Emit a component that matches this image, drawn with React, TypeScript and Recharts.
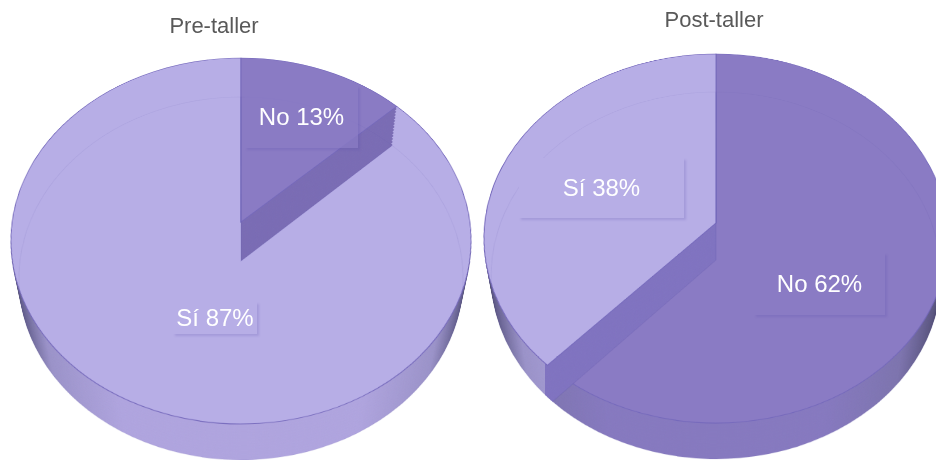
import React from 'react';
import { PieChart, Pie, Cell } from 'recharts';

const sliceNames = ['No', 'Sí'];
const preValues = [13, 87];
const postValues = [62, 38];
const chartTitles = ['Pre-taller', 'Post-taller'];

const R = 300;
const PAD = 3;
const LAYERS = 26;

const colors = {
    no: '#8a7bc4',
    si: '#b7aee6',
    wallPre: '#7a6cb4',
    wallPost: '#8073c0',
    edge: '#7468bb',
    title: '#595959',
};

interface Face { cx: number; cy: number; S: number; T: number; q: number; }

const lerp = (a: number, b: number, t: number) => a + (b - a) * t;
const mixFace = (a: Face, b: Face, t: number): Face => ({
    cx: lerp(a.cx, b.cx, t),
    cy: lerp(a.cy, b.cy, t),
    S: lerp(a.S, b.S, t),
    T: lerp(a.T, b.T, t),
    q: lerp(a.q, b.q, t),
});

// Each disc is a normal circular pie, tilted with a projective css transform
const Disc = ({ face, values, fills, stroke, strokeWidth = 1.1 }: {
    face: Face; values: number[]; fills: string[]; stroke: string[]; strokeWidth?: number;
}) => {
    const size = 2 * (R + PAD);
    const tableData = sliceNames.map((name, i) => ({ name, value: values[i] }));
    return (
        <div
            style={{
                position: 'absolute',
                left: face.cx - size / 2,
                top: face.cy - size / 2,
                width: size,
                height: size,
                transformOrigin: '50% 50%',
                transform: `matrix3d(${face.S / R},0,0,0, 0,${face.T / R},0,${-face.q / R}, 0,0,1,0, 0,0,0,1)`,
            }}
        >
            <PieChart width={size} height={size} margin={{ top: 0, right: 0, bottom: 0, left: 0 }}>
                <defs>
                    <linearGradient id="sideNo" gradientUnits="userSpaceOnUse" x1={PAD} y1="0" x2={size - PAD} y2="0">
                        <stop offset="0%" stopColor="#3d3a5c" />
                        <stop offset="4%" stopColor="#5a5580" />
                        <stop offset="12%" stopColor="#7d74ae" />
                        <stop offset="28%" stopColor="#8679bf" />
                        <stop offset="72%" stopColor="#8679bf" />
                        <stop offset="88%" stopColor="#7d74ae" />
                        <stop offset="96%" stopColor="#5a5580" />
                        <stop offset="100%" stopColor="#3d3a5c" />
                    </linearGradient>
                    <linearGradient id="sideSi" gradientUnits="userSpaceOnUse" x1={PAD} y1="0" x2={size - PAD} y2="0">
                        <stop offset="0%" stopColor="#3d3a5c" />
                        <stop offset="3%" stopColor="#625d8c" />
                        <stop offset="10%" stopColor="#9a92c8" />
                        <stop offset="26%" stopColor="#afa4de" />
                        <stop offset="74%" stopColor="#afa4de" />
                        <stop offset="90%" stopColor="#9a92c8" />
                        <stop offset="97%" stopColor="#625d8c" />
                        <stop offset="100%" stopColor="#3d3a5c" />
                    </linearGradient>
                </defs>
                <Pie
                    data={tableData}
                    dataKey="value"
                    nameKey="name"
                    cx={R + PAD}
                    cy={R + PAD}
                    outerRadius={R}
                    innerRadius={0}
                    startAngle={90}
                    endAngle={-270}
                    label={false}
                    labelLine={false}
                    isAnimationActive={false}
                >
                    {tableData.map((entry, i) => (
                        <Cell key={entry.name} fill={fills[i]} stroke={stroke[i]} strokeWidth={strokeWidth} />
                    ))}
                </Pie>
            </PieChart>
        </div>
    );
};

const PieBody = ({ top, bottom, values, raised, wallFill, wallClipX }: {
    top: Face; bottom: Face; values: number[]; raised: number; wallFill: string; wallClipX?: number;
}) => {
    const steps = Array.from({ length: LAYERS }, (_, i) => 1 - i / LAYERS);
    const other = raised === 0 ? 1 : 0;
    const raisedFill = raised === 0 ? colors.no : colors.si;
    const pick = (on: string, off: string) => (raised === 0 ? [on, off] : [off, on]);
    const none = ['none', 'none'];
    return (
        <>
            {steps.map((t) => (
                <Disc key={`side${t}`} face={mixFace(top, bottom, t)} values={values} fills={['url(#sideNo)', 'url(#sideSi)']} stroke={none} />
            ))}
            {/* lower rim line of the top face and the full top */}
            <Disc
                face={top}
                values={values}
                fills={other === 0 ? [colors.no, colors.no] : [colors.si, colors.si]}
                stroke={[colors.edge, colors.edge].map((c, i) => (i === other ? c : 'none'))}
            />
            <div style={{ position: 'absolute', inset: 0, clipPath: wallClipX ? `inset(0 0 0 ${wallClipX}px)` : undefined }}>
                {steps.map((t) => (
                    <Disc key={`wall${t}`} face={mixFace(top, bottom, t)} values={values} fills={pick(wallFill, 'none')} stroke={none} />
                ))}
            </div>
            <Disc face={top} values={values} fills={pick(raisedFill, 'none')} stroke={pick(colors.edge, 'none')} />
            {/* far rim of the base shows faintly through the top */}
            <Disc face={bottom} values={values} fills={['none', 'none']} stroke={['rgba(90,78,170,0.1)', 'rgba(90,78,170,0.1)']} />
        </>
    );
};

const SliceLabel = ({ text, left, top, width, height, fill }: {
    text: string; left: number; top: number; width: number; height: number; fill: string;
}) => (
    <div
        style={{
            position: 'absolute',
            left,
            top,
            width,
            height,
            lineHeight: `${height}px`,
            textAlign: 'center',
            fontSize: 24,
            color: '#ffffff',
            background: fill,
            boxShadow: '2px 2px 2px rgba(88,76,170,0.2)',
        }}
    >
        {text}
    </div>
);

const ChartTitle = ({ text, center, top }: { text: string; center: number; top: number }) => (
    <div style={{ position: 'absolute', left: center - 80, width: 160, top, textAlign: 'center', fontSize: 22, lineHeight: '26px', color: colors.title }}>
        {text}
    </div>
);

const preTop: Face = { cx: 241, cy: 222, S: 228.8, T: 181, q: 0.1038 };
const preBottom: Face = { cx: 241, cy: 261, S: 221, T: 179.8, q: 0.0964 };
const postTop: Face = { cx: 716, cy: 223, S: 231.2, T: 183.2, q: 0.084 };
const postBottom: Face = { cx: 716, cy: 260, S: 224, T: 182.2, q: 0.0845 };

export default function App() {
    return (
        <div
            style={{
                position: 'fixed',
                left: 0,
                top: 0,
                width: 936,
                height: 460,
                overflow: 'hidden',
                background: '#ffffff',
                fontFamily: '"Liberation Sans", Arial, sans-serif',
            }}
        >
            <PieBody top={preTop} bottom={preBottom} values={preValues} raised={0} wallFill={colors.wallPre} />
            <PieBody top={postTop} bottom={postBottom} values={postValues} raised={1} wallFill={colors.wallPost} wallClipX={545} />

            <ChartTitle text={chartTitles[0]} center={214} top={13} />
            <ChartTitle text={chartTitles[1]} center={714} top={7} />

            <SliceLabel text={`${sliceNames[0]} ${preValues[0]}%`} left={245} top={86} width={113} height={62} fill="rgba(138,123,196,0.75)" />
            <SliceLabel text={`${sliceNames[1]} ${preValues[1]}%`} left={173} top={302} width={84} height={32} fill={colors.si} />
            <SliceLabel text={`${sliceNames[1]} ${postValues[1]}%`} left={519} top={158} width={165} height={60} fill={colors.si} />
            <SliceLabel text={`${sliceNames[0]} ${postValues[0]}%`} left={754} top={253} width={131} height={62} fill={colors.no} />
        </div>
    );
}
